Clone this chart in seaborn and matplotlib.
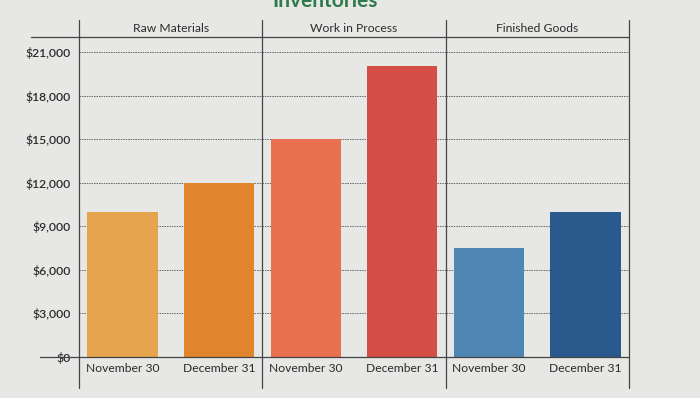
import seaborn as sns
import matplotlib.pyplot as plt
from matplotlib.lines import Line2D

# data
groups = ["Raw Materials", "Work in Process", "Finished Goods"]
dates = ["November 30", "December 31"]
raw_materials = [10000, 12000]
work_in_process = [15000, 20000]
finished_goods = [7500, 10000]
values = [raw_materials, work_in_process, finished_goods]
colors = [["#E6A44E", "#E0852B"], ["#E9714F", "#D44E45"], ["#4E86B4", "#2A5A8D"]]
yticks = list(range(0, 21001, 3000))

bg = "#E7E7E5"
txt = "#2B2B2B"

sns.set_style("white")
plt.rcParams["font.family"] = ["Lato", "DejaVu Sans"]

fig, axes = plt.subplots(1, 3, figsize=(7, 3.98), dpi=100, sharey=True)
fig.patch.set_facecolor(bg)
W, H = 700, 398
fig.subplots_adjust(left=79 / W, right=629 / W, bottom=1 - 357 / H, top=1 - 37 / H, wspace=0)

for ax, name, vals, cols in zip(axes, groups, values, colors):
    ax.set_facecolor(bg)
    sns.barplot(x=dates, y=vals, hue=dates, palette=cols, legend=False,
                width=0.73, saturation=1, edgecolor="none", linewidth=0, ax=ax)
    ax.set_ylim(0, 22030)
    ax.set_yticks(yticks)
    ax.yaxis.grid(True, linestyle=(0, (1.5, 1)), color="#666666", lw=0.7)
    ax.set_axisbelow(True)
    for s in ax.spines.values():
        s.set_visible(False)
    ax.tick_params(axis="both", length=0, labelsize=8.7, colors=txt)
    ax.tick_params(axis="x", pad=4)
    ax.set_xlabel("")
    ax.set_ylabel("")
    ax.text(0.5, 1.028, name, transform=ax.transAxes, ha="center", va="center",
            fontsize=8.7, color=txt)
    # panel divider lines
    ax.plot([0, 0], [-0.097, 1.053], transform=ax.transAxes, color="#444444",
            lw=0.9, clip_on=False)

axes[-1].plot([1, 1], [-0.097, 1.053], transform=axes[-1].transAxes,
              color="#444444", lw=0.9, clip_on=False)
axes[0].set_yticklabels([f"${v:,}" for v in yticks], fontweight="semibold")
axes[0].tick_params(axis="y", pad=6)

# header line and baseline
fig.add_artist(Line2D([31 / W, 629 / W], [1 - 37 / H] * 2, color="#444444", lw=0.9))
fig.add_artist(Line2D([40 / W, 629 / W], [1 - 357 / H] * 2, color="#444444", lw=0.9))

# title is cut off at the top edge in the original screenshot
fig.text(325 / W, 1 - 7 / H, "Inventories", ha="center", va="baseline",
         fontsize=15, fontweight="bold", color="#2F7A4A")

fig.savefig("out.png", dpi=100, facecolor=bg)
